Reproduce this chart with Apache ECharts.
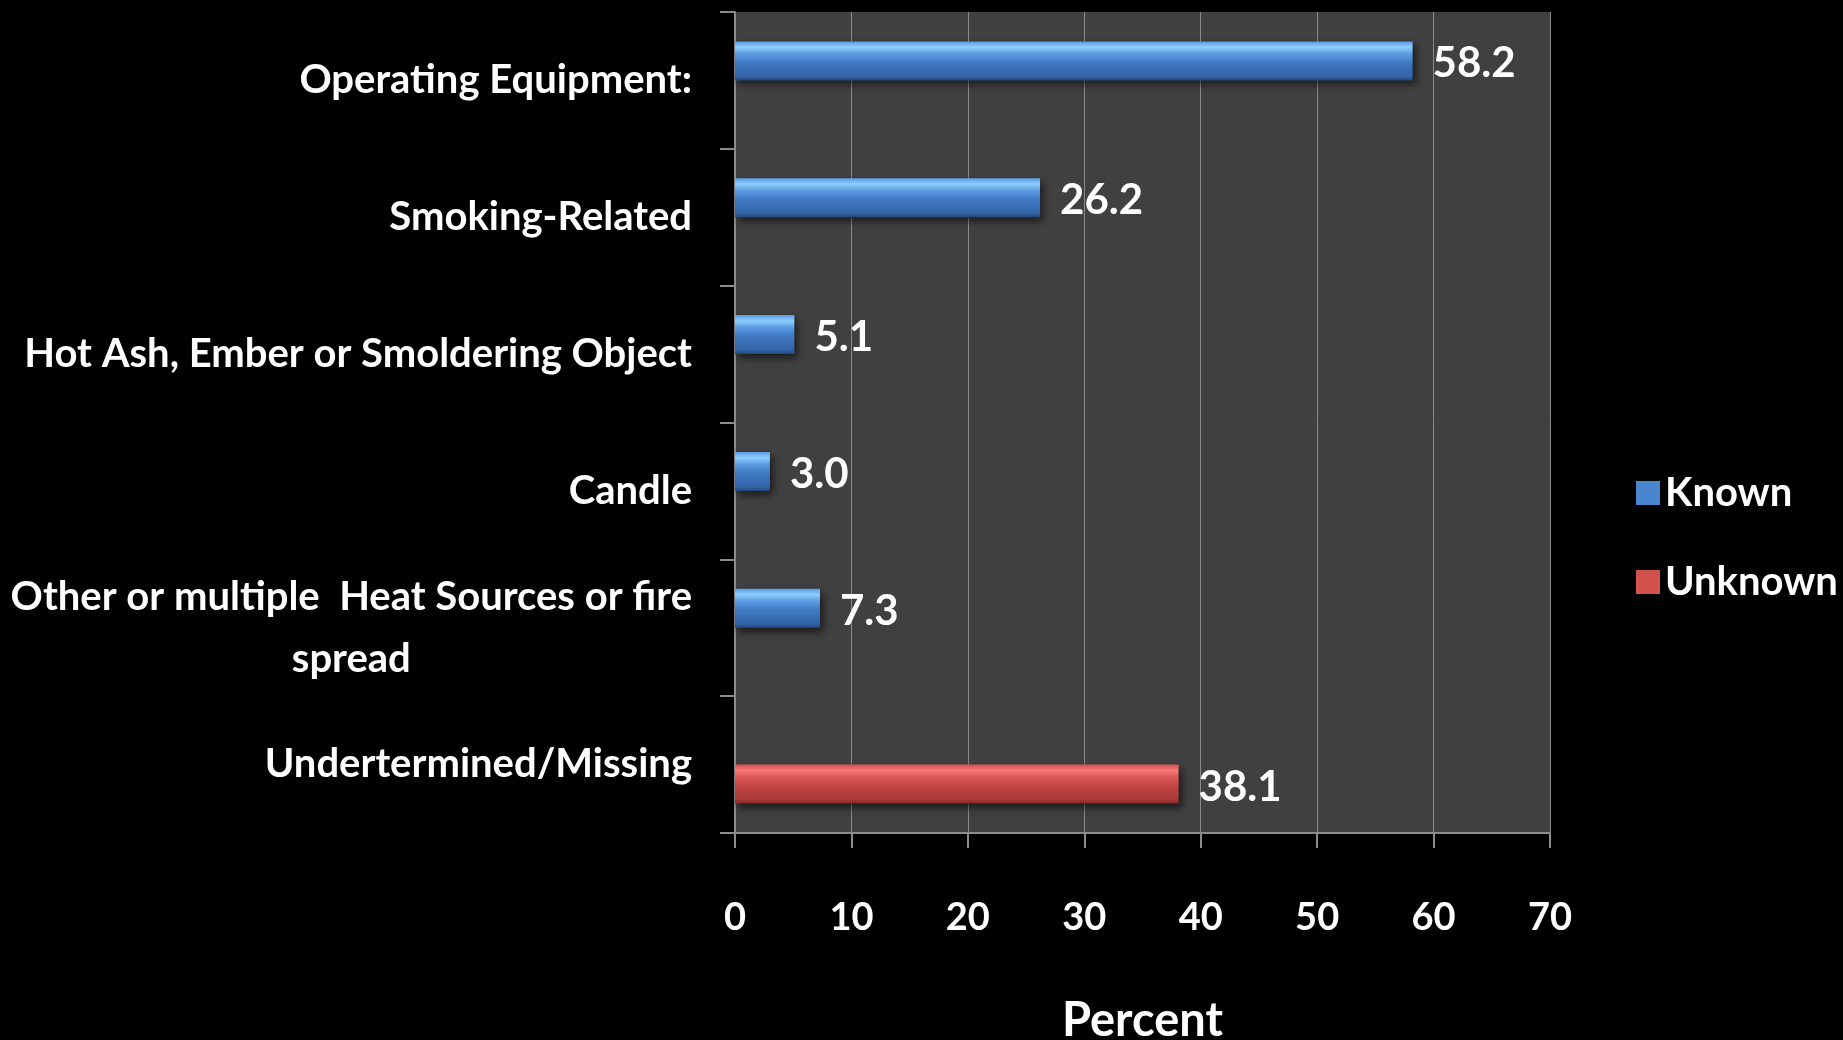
<!DOCTYPE html>
<html>
<head>
<meta charset="utf-8">
<title>Heat source</title>
<script src="https://cdn.jsdelivr.net/npm/echarts@6/dist/echarts.min.js"></script>
<style>
  html, body { margin: 0; padding: 0; background: #000; }
  #chart { width: 1843px; height: 1040px; }
</style>
</head>
<body>
<div id="chart"></div>
<script>
  // data
  const categories = [
    'Operating Equipment:',
    'Smoking-Related',
    'Hot Ash, Ember or Smoldering Object',
    'Candle',
    'Other or multiple  Heat Sources or fire\nspread',
    'Undertermined/Missing'
  ]
  const knownValues = [58.2, 26.2, 5.1, 3.0, 7.3, null]
  const unknownValues = [null, null, null, null, null, 38.1]
  const xTicks = { min: 0, max: 70, interval: 10 }

  const FONT = 'Lato, "Open Sans", sans-serif'
  const FS = 40

  // glossy bar fills
  const blue = new echarts.graphic.LinearGradient(0, 0, 0, 1, [
    { offset: 0, color: '#5a9ae6' },
    { offset: 0.15, color: '#8ecfff' },
    { offset: 0.32, color: '#5b9be0' },
    { offset: 0.55, color: '#4079c2' },
    { offset: 0.9, color: '#3263a6' },
    { offset: 1, color: '#24477c' }
  ])
  const red = new echarts.graphic.LinearGradient(0, 0, 0, 1, [
    { offset: 0, color: '#d85050' },
    { offset: 0.15, color: '#f87a78' },
    { offset: 0.32, color: '#e05856' },
    { offset: 0.55, color: '#c04543' },
    { offset: 0.9, color: '#a83a38' },
    { offset: 1, color: '#7e2828' }
  ])

  const valueLabel = {
    show: true,
    position: 'right',
    distance: 20,
    offset: [0, 3],
    color: '#fff',
    fontFamily: FONT,
    fontWeight: 'bold',
    fontSize: 42,
    formatter: p => (p.value == null ? '' : p.value.toFixed(1))
  }
  const barShadow = {
    shadowBlur: 8,
    shadowColor: 'rgba(0,0,0,0.6)',
    shadowOffsetX: 3,
    shadowOffsetY: 4
  }

  var chart = echarts.init(document.getElementById('chart'))
  chart.setOption({
    backgroundColor: '#000',
    animation: false,
    grid: {
      left: 735, right: 293, top: 12, bottom: 207,
      outerBoundsMode: 'none',
      containLabel: false,
      show: true, backgroundColor: '#404040', borderWidth: 0
    },
    legend: {
      orient: 'vertical',
      left: 1631,
      top: 468,
      icon: 'rect',
      itemWidth: 24,
      itemHeight: 24,
      itemGap: 49,
      textStyle: { color: '#fff', fontFamily: FONT, fontWeight: 'bold', fontSize: FS },
      data: [
        { name: 'Known', itemStyle: { color: '#4a86cf' } },
        { name: 'Unknown', itemStyle: { color: '#d0504c' } }
      ]
    },
    xAxis: {
      type: 'value',
      min: xTicks.min, max: xTicks.max, interval: xTicks.interval,
      name: 'Percent',
      nameLocation: 'middle',
      nameGap: 164,
      nameTextStyle: { color: '#fff', fontFamily: FONT, fontWeight: 'bold', fontSize: 47 },
      axisLine: { show: true, lineStyle: { color: '#8c8c8c', width: 2 } },
      axisTick: { show: true, length: 15, lineStyle: { color: '#8c8c8c', width: 2 } },
      axisLabel: { color: '#fff', fontFamily: FONT, fontWeight: 'bold', fontSize: 38, margin: 66 },
      splitLine: { show: true, lineStyle: { color: '#8a8a8a', width: 1 } }
    },
    yAxis: {
      type: 'category',
      inverse: true,
      data: categories,
      axisLine: { show: true, lineStyle: { color: '#8c8c8c', width: 2 } },
      axisTick: { show: true, length: 15, lineStyle: { color: '#8c8c8c', width: 2 } },
      axisLabel: {
        margin: 43,
        align: 'right',
        color: '#fff',
        fontFamily: FONT,
        fontWeight: 'bold',
        fontSize: FS,
        formatter: v => v.split('\n').map(s => '{c|' + s + '}').join('\n'),
        rich: {
          c: {
            align: 'center',
            color: '#fff',
            fontFamily: FONT,
            fontWeight: 'bold',
            fontSize: FS,
            lineHeight: 62
          }
        }
      }
    },
    series: [
      {
        name: 'Known',
        type: 'bar',
        data: knownValues,
        barWidth: 39,
        barGap: '0%',
        itemStyle: Object.assign({ color: blue }, barShadow),
        label: valueLabel
      },
      {
        name: 'Unknown',
        type: 'bar',
        data: unknownValues,
        barWidth: 39,
        barGap: '0%',
        itemStyle: Object.assign({ color: red }, barShadow),
        label: valueLabel
      }
    ]
  })
  window.onresize = function () {
    chart.resize()
  }
</script>
</body>
</html>
